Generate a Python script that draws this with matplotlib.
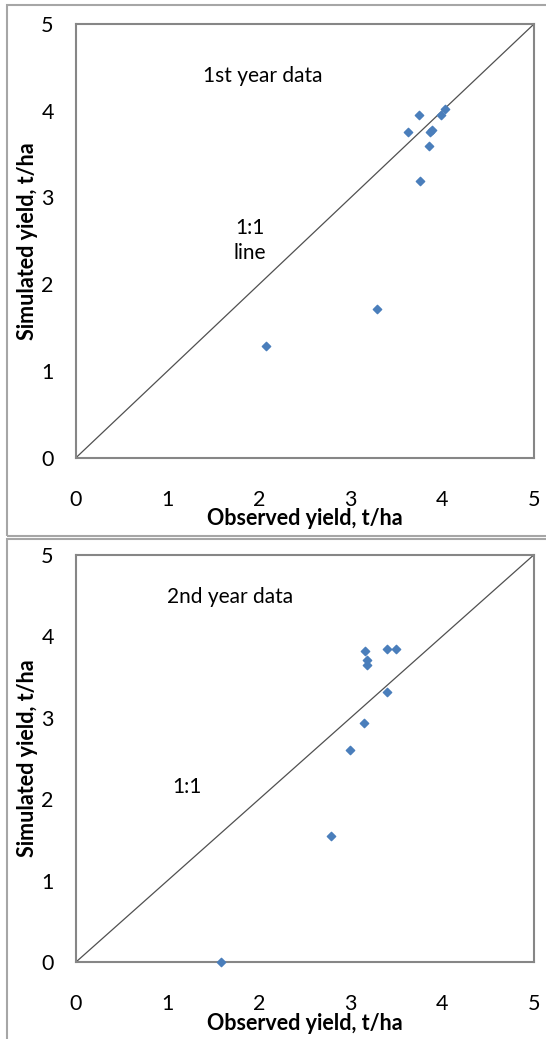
import matplotlib
matplotlib.use('Agg')
import matplotlib.pyplot as plt
from matplotlib.patches import Rectangle

plt.rcParams['font.family'] = ['Lato', 'DejaVu Sans']

# 1st year: observed vs simulated yield (t/ha)
obs1 = [2.07, 3.29, 3.74, 3.62, 3.98, 4.03, 3.89, 3.86, 3.85, 3.75]
sim1 = [1.29, 1.71, 3.95, 3.75, 3.95, 4.02, 3.78, 3.75, 3.59, 3.19]

# 2nd year
obs2 = [1.58, 2.78, 2.99, 3.14, 3.16, 3.18, 3.18, 3.40, 3.40, 3.49]
sim2 = [0.00, 1.55, 2.60, 2.94, 3.82, 3.71, 3.64, 3.31, 3.84, 3.84]

ticks = [0, 1, 2, 3, 4, 5]

W, H = 546, 1039
fig = plt.figure(figsize=(W / 100, H / 100), dpi=100)

# outer chart frames (like excel chart areas)
fig.patches.append(Rectangle((7 / W, 1 - 536 / H), 1, 531 / H, transform=fig.transFigure,
                             fill=False, edgecolor='#a6a6a6', linewidth=1.5))
fig.patches.append(Rectangle((7 / W, -0.01), 1, (1039 - 539) / H + 0.01, transform=fig.transFigure,
                             fill=False, edgecolor='#a6a6a6', linewidth=1.5))

panels = [
    (obs1, sim1, [76, 24, 534, 457.7], [(2.04, 4.40, '1st year data'), (1.9, 2.5, '1:1\nline')]),
    (obs2, sim2, [76, 554.7, 534, 962], [(1.68, 4.48, '2nd year data'), (1.21, 2.15, '1:1')]),
]

for obs, sim, box, notes in panels:
    l, t, r, b = box
    ax = fig.add_axes([l / W, 1 - b / H, (r - l) / W, (b - t) / H])
    ax.plot([0, 5], [0, 5], color='#505050', linewidth=0.9)
    ax.scatter(obs, sim, marker='D', s=18, color='#4a7ebb', zorder=3, clip_on=False)
    ax.set_xlim(0, 5)
    ax.set_ylim(0, 5)
    ax.set_xticks(ticks)
    ax.set_yticks(ticks)
    ax.tick_params(axis='x', length=0, pad=23, labelsize=15.5)
    ax.tick_params(axis='y', length=0, pad=16, labelsize=15.5)
    for s in ax.spines.values():
        s.set_color('#868686')
        s.set_linewidth(1.5)
    ax.set_xlabel('Observed yield, t/ha', fontsize=15.5, fontweight='bold', labelpad=-1)
    ax.set_ylabel('Simulated yield, t/ha', fontsize=15.5, fontweight='bold', labelpad=2)
    for x, y, txt in notes:
        ax.text(x, y, txt, fontsize=15, ha='center', va='center', linespacing=1.3)

fig.savefig('out.png', dpi=100)
